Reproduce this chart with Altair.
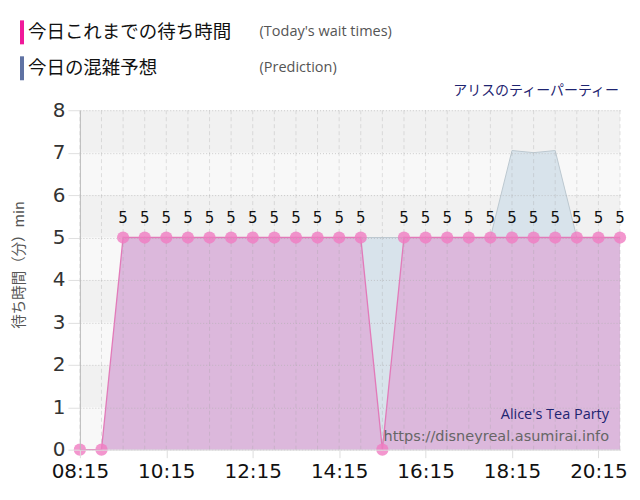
import altair as alt
import pandas as pd

# ---- data ----
actual_times = ["08:15", "08:45", "09:15", "09:45", "10:15", "10:45", "11:15", "11:45",
                "12:15", "12:45", "13:15", "13:45", "14:15", "14:45", "15:15", "15:45",
                "16:15", "16:45", "17:15", "17:45", "18:15", "18:45", "19:15", "19:45",
                "20:15", "20:45"]
actual_values = [0, 0, 5, 5, 5, 5, 5, 5, 5, 5, 5, 5, 5, 5, 0, 5, 5, 5, 5, 5, 5, 5, 5, 5, 5, 5]

pred_times = ["09:15", "09:45", "10:15", "10:45", "11:15", "11:45", "12:15", "12:45",
              "13:15", "13:45", "14:15", "14:45", "15:15", "15:45", "16:15", "16:45",
              "17:15", "17:45", "18:15", "18:45", "19:15", "19:45", "20:15", "20:45"]
pred_values = [5, 5, 5, 5, 5, 5, 5, 5, 5, 5, 5, 5, 5, 5, 5, 5, 5, 5, 7.05, 7.0, 7.05, 5, 5, 5]

tick_labels = ["08:15", "10:15", "12:15", "14:15", "16:15", "18:15", "20:15"]
band_lo = [0, 1, 2, 3, 4, 5, 6, 7]
band_hi = [1, 2, 3, 4, 5, 6, 7, 8]
band_shade = ["light", "dark", "light", "dark", "light", "dark", "light", "dark"]

legend_names = ["今日これまでの待ち時間", "今日の混雑予想"]
legend_notes = ["(Today's wait times)", "(Prediction)"]
legend_colors = ["#f0199a", "#5f72a3"]


def to_min(s):
    h, m = s.split(":")
    return int(h) * 60 + int(m)


actual = pd.DataFrame({"t": [to_min(s) for s in actual_times], "v": actual_values})
actual["lab"] = actual["v"].apply(lambda v: str(v) if v > 0 else "")
pred = pd.DataFrame({"t": [to_min(s) for s in pred_times], "v": pred_values})
bands = pd.DataFrame({"lo": band_lo, "hi": band_hi, "shade": band_shade})
grid = pd.DataFrame({"t": [to_min(s) for s in actual_times]})

W, H = 541, 340
NUM_FONT = "DejaVu Sans"
JP_FONT = "Noto Sans CJK JP"

xdomain = [to_min("08:15"), to_min("20:45")]
xscale = alt.Scale(domain=xdomain, nice=False, zero=False)
yscale = alt.Scale(domain=[0, 8], nice=False)

label_expr = ("(datum.value < 600 ? '0' : '') + floor(datum.value / 60) + ':' + "
              "(datum.value % 60 < 10 ? '0' : '') + (datum.value % 60)")

x_axis = alt.Axis(values=[to_min(s) for s in tick_labels], labelExpr=label_expr,
                  grid=False, labelFontSize=20, labelFont=NUM_FONT, labelColor="#111",
                  tickSize=8, tickColor="#dddddd", domainColor="#dddddd",
                  labelPadding=4, labelFlush=False, labelOverlap=False,
                  title=None, zindex=1)
y_axis = alt.Axis(values=list(range(0, 9)), grid=True, gridColor="#b0b0b0",
                  gridOpacity=0.6, gridDash=[1, 2], labelFontSize=20, labelFont=NUM_FONT,
                  labelColor="#333", tickSize=12, tickColor="#e0e0e0",
                  domainColor="#bbbbbb", labelPadding=3, labelFlush=False,
                  title=None, zindex=1)

bg = alt.Chart(bands).mark_rect().encode(
    y=alt.Y("lo:Q", scale=yscale, axis=y_axis),
    y2="hi:Q",
    color=alt.Color("shade:N", scale=alt.Scale(domain=["light", "dark"],
                                               range=["#f8f8f8", "#f1f1f1"]), legend=None),
)

pred_area = alt.Chart(pred).mark_area(color="#d6e2ea", opacity=0.95,
                                      line={"color": "#bcc8d0", "strokeWidth": 1}).encode(
    x=alt.X("t:Q", scale=xscale, axis=x_axis),
    y=alt.Y("v:Q", scale=yscale),
)

act_area = alt.Chart(actual).mark_area(color="#dcb8dc", opacity=1,
                                       line={"color": "#e27ab9", "strokeWidth": 1.3}).encode(
    x=alt.X("t:Q", scale=xscale),
    y=alt.Y("v:Q", scale=yscale),
)

vgrid = alt.Chart(grid).mark_rule(color="#a0a0a0", opacity=0.3, strokeDash=[4, 3],
                                  strokeWidth=1).encode(
    x=alt.X("t:Q", scale=xscale)
)

pts = alt.Chart(actual).mark_circle(size=150, color="#f07cc2", opacity=0.8).encode(
    x=alt.X("t:Q", scale=xscale),
    y=alt.Y("v:Q", scale=yscale),
)

labels = alt.Chart(actual).mark_text(dy=-20, fontSize=15, font=NUM_FONT, color="#111").encode(
    x=alt.X("t:Q", scale=xscale),
    y=alt.Y("v:Q", scale=yscale),
    text="lab:N",
)

# ---- decorations (legend, titles, watermark) ----
row_y = [-78, -42]
leg_layers = []
for i in range(2):
    d = pd.DataFrame({"name": [legend_names[i]], "note": [legend_notes[i]]})
    leg_layers.append(alt.Chart(d).mark_rect(width=4, height=24, color=legend_colors[i]).encode(
        x=alt.value(-58), y=alt.value(row_y[i])))
    leg_layers.append(alt.Chart(d).mark_text(align="left", baseline="middle", fontSize=18.5,
                                             font=JP_FONT, color="#111").encode(
        x=alt.value(-52), y=alt.value(row_y[i]), text="name:N"))
    leg_layers.append(alt.Chart(d).mark_text(align="left", baseline="middle", fontSize=14.5,
                                             font="Open Sans", color="#555").encode(
        x=alt.value(180), y=alt.value(row_y[i]), text="note:N"))

deco = pd.DataFrame({
    "txt": ["アリスのティーパーティー", "Alice's Tea Party", "https://disneyreal.asumirai.info"],
    "k": ["a", "b", "c"],
})
title_t = alt.Chart(deco[deco.k == "a"]).mark_text(align="right", baseline="middle", fontSize=14,
                                                   font=JP_FONT, color="#1e2470").encode(
    x=alt.value(540), y=alt.value(-19), text="txt:N")
wm1 = alt.Chart(deco[deco.k == "b"]).mark_text(align="right", baseline="middle", fontSize=14.5,
                                               font="Open Sans", color="#1e2470").encode(
    x=alt.value(530), y=alt.value(305), text="txt:N")
wm2 = alt.Chart(deco[deco.k == "c"]).mark_text(align="right", baseline="middle", fontSize=14.5,
                                               font="DejaVu Sans", color="#666").encode(
    x=alt.value(530), y=alt.value(327), text="txt:N")

ytitle = alt.Chart(pd.DataFrame({"txt": ["待ち時間（分）min"]})).mark_text(
    angle=270, baseline="middle", align="center", fontSize=14.5, font=JP_FONT, color="#555"
).encode(x=alt.value(-60), y=alt.value(155), text="txt:N")

chart = alt.layer(
    bg, pred_area, act_area, vgrid, pts, labels,
    *leg_layers, title_t, wm1, wm2, ytitle,
).properties(
    width=W, height=H,
    autosize=alt.AutoSizeParams(type="none"),
    padding={"left": 72, "top": 102, "right": 12, "bottom": 40},
    background="white",
).configure_view(stroke=None)

chart.save("out.html", embed_options={"renderer": "svg", "actions": False})
